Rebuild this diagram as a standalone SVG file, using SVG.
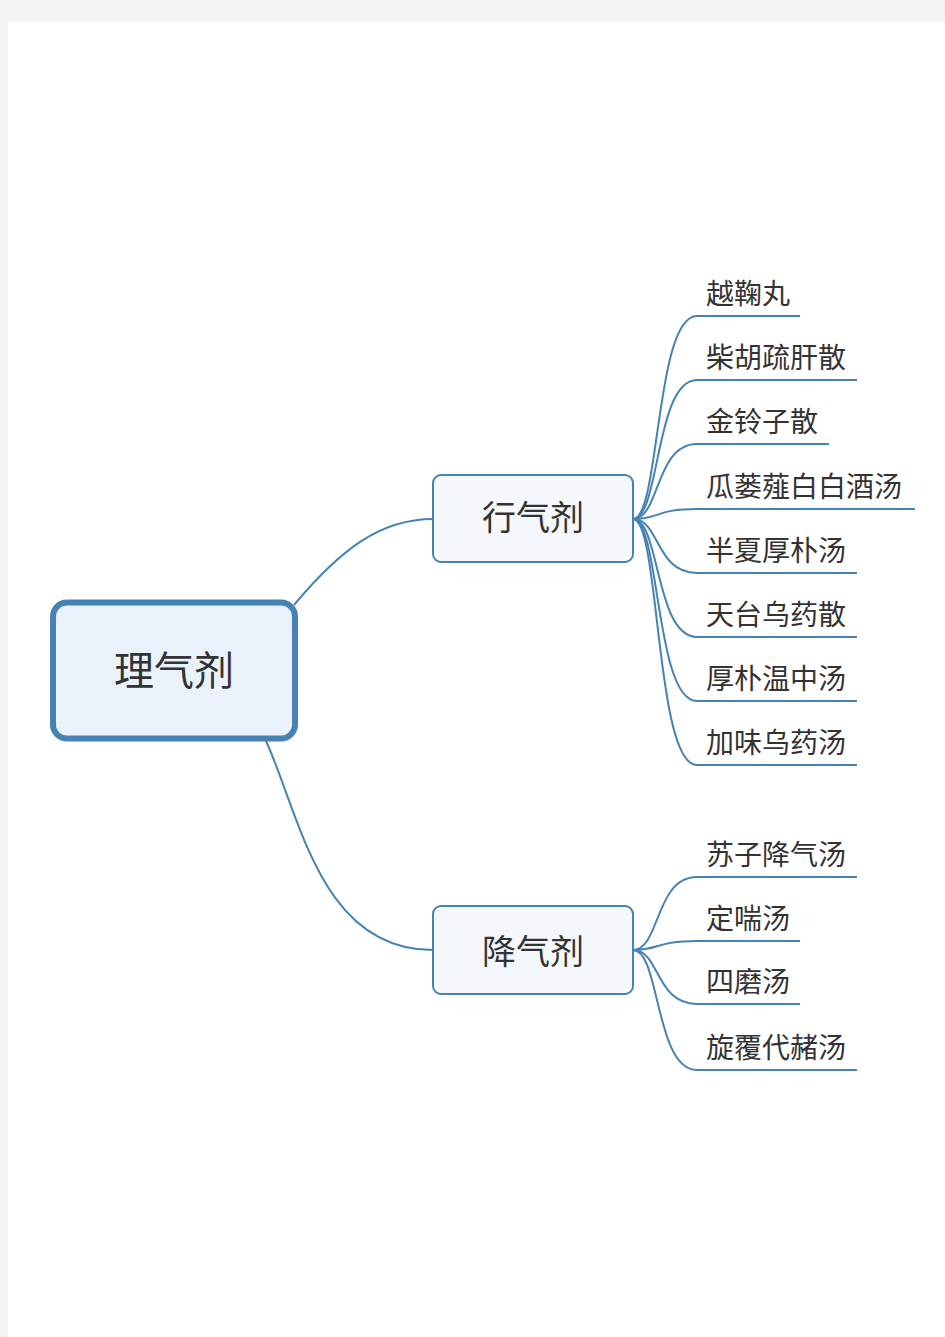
<svg xmlns="http://www.w3.org/2000/svg" width="945" height="1337" viewBox="0 0 945 1337">
<style>
.t{font-family:"Noto Sans CJK SC","Noto Sans",sans-serif;fill:#333333}
.leaf{font-size:28px}
.c{fill:none;stroke:#4682b4;stroke-width:2}
</style>
<rect x="0" y="0" width="945" height="1337" fill="#f3f3f3"/>
<rect x="8" y="22" width="937" height="1315" fill="#ffffff"/>
<g id="connectors" class="c">
<path d="M294,605 C340,550 380,519 433,519"/>
<path d="M266,741 C300,815 320,950 433,950"/>
<path d="M633,519 C660,519 655,316 697,316 H800"/>
<path d="M633,519 C660,519 655,380 697,380 H857"/>
<path d="M633,519 C660,519 655,444 697,444 H829"/>
<path d="M633,519 C660,519 655,509 697,509 H915"/>
<path d="M633,519 C660,519 655,573 697,573 H857"/>
<path d="M633,519 C660,519 655,637 697,637 H857"/>
<path d="M633,519 C660,519 655,701 697,701 H857"/>
<path d="M633,519 C660,519 655,765 697,765 H857"/>
<path d="M633,950 C660,950 655,877 697,877 H857"/>
<path d="M633,950 C660,950 655,941 697,941 H800"/>
<path d="M633,950 C660,950 655,1004 697,1004 H800"/>
<path d="M633,950 C660,950 655,1070 697,1070 H857"/>
</g>
<g id="root">
<rect x="53" y="602.5" width="242" height="136" rx="14" fill="#e9f1fb" stroke="#4682b4" stroke-width="6"/>
<text class="t" x="174" y="685" font-size="40" text-anchor="middle">理气剂</text>
</g>
<g id="n-xingqi">
<rect x="433" y="475" width="200" height="87" rx="8" fill="#f4f8fd" stroke="#4682b4" stroke-width="2"/>
<text class="t" x="533" y="530" font-size="34" text-anchor="middle">行气剂</text>
</g>
<g id="n-jiangqi">
<rect x="433" y="906" width="200" height="88" rx="8" fill="#f4f8fd" stroke="#4682b4" stroke-width="2"/>
<text class="t" x="533" y="964" font-size="34" text-anchor="middle">降气剂</text>
</g>
<g id="l1"><text class="t leaf" x="706" y="304">越鞠丸</text></g>
<g id="l2"><text class="t leaf" x="706" y="368">柴胡疏肝散</text></g>
<g id="l3"><text class="t leaf" x="706" y="432">金铃子散</text></g>
<g id="l4"><text class="t leaf" x="706" y="497">瓜蒌薤白白酒汤</text></g>
<g id="l5"><text class="t leaf" x="706" y="561">半夏厚朴汤</text></g>
<g id="l6"><text class="t leaf" x="706" y="625">天台乌药散</text></g>
<g id="l7"><text class="t leaf" x="706" y="689">厚朴温中汤</text></g>
<g id="l8"><text class="t leaf" x="706" y="753">加味乌药汤</text></g>
<g id="l9"><text class="t leaf" x="706" y="865">苏子降气汤</text></g>
<g id="l10"><text class="t leaf" x="706" y="929">定喘汤</text></g>
<g id="l11"><text class="t leaf" x="706" y="992">四磨汤</text></g>
<g id="l12"><text class="t leaf" x="706" y="1058">旋覆代赭汤</text></g>
</svg>
